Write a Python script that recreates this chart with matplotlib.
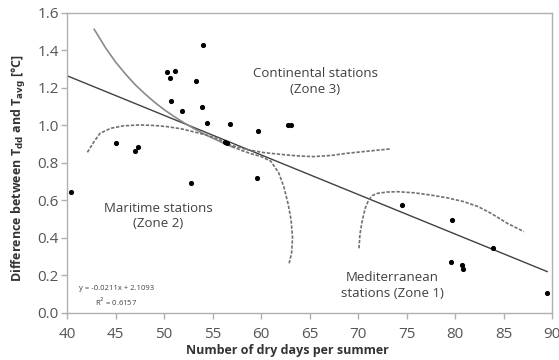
import numpy as np
import matplotlib.pyplot as plt

plt.rcParams['font.family'] = ['Open Sans', 'DejaVu Sans']

# station data: dry days per summer vs temperature difference
dry_days = [40.4, 45.1, 47.0, 47.3, 50.3, 50.6, 51.1, 50.7, 51.85, 53.3, 54.05,
            53.9, 54.4, 56.8, 56.3, 56.5, 59.66, 59.6, 52.8, 62.8, 63.1,
            74.5, 79.7, 83.9, 79.6, 80.7, 80.8, 89.45]
temp_diff = [0.647, 0.905, 0.864, 0.885, 1.285, 1.255, 1.289, 1.129, 1.076, 1.239, 1.431,
             1.100, 1.015, 1.008, 0.914, 0.905, 0.971, 0.718, 0.695, 1.000, 1.005,
             0.576, 0.496, 0.348, 0.270, 0.254, 0.233, 0.105]

# linear fit reported on the chart
slope = -0.0211
intercept = 2.1093
fit_x = [40, 89.5]

# hand drawn zone boundaries
zone3_x = [42.8, 44, 45, 46, 47, 48, 49, 50, 51, 52, 53, 54, 55, 56, 57, 58, 59,
           60, 61, 61.8, 62.35, 62.8, 63.1, 63.25, 63.15, 62.9]
zone3_y = [1.513, 1.412, 1.339, 1.276, 1.219, 1.170, 1.125, 1.085, 1.049, 1.016, 0.986,
           0.958, 0.933, 0.909, 0.887, 0.867, 0.849,
           0.835, 0.81, 0.75, 0.674, 0.58, 0.496, 0.40, 0.32, 0.265]
zone2_x = [42.1, 42.8, 43.4, 44.5, 45.8, 47.5, 49.0, 50.3, 51.8, 53.0, 54.3, 55.5, 56.8,
           58.5, 60.2, 62.0, 63.7, 65.4, 67.2, 68.9, 71.0, 73.3]
zone2_y = [0.857, 0.915, 0.958, 0.985, 0.998, 1.003, 1.0, 0.994, 0.982, 0.967, 0.95, 0.93,
           0.896, 0.872, 0.856, 0.846, 0.838, 0.834, 0.840, 0.852, 0.863, 0.875]
zone1_x = [70.1, 70.2, 70.45, 70.75, 71.1, 71.5, 72.0, 73.0, 74.05, 75.8, 77.5, 79.2,
           80.9, 82.4, 83.7, 85.4, 87.1]
zone1_y = [0.345, 0.42, 0.496, 0.56, 0.603, 0.627, 0.638, 0.645, 0.647, 0.641, 0.629,
           0.614, 0.594, 0.567, 0.532, 0.478, 0.434]

fig = plt.figure(figsize=(5.59, 3.6), dpi=100)
ax = fig.add_axes([0.1199, 0.1306, 0.8676, 0.8333])

lx = np.array(fit_x)
ax.plot(lx, slope * lx + intercept, color='#404040', lw=1.0, zorder=2)

dash = (0, (2, 1))
ax.plot(zone3_x[:15], zone3_y[:15], color='#8a8a8a', lw=1.2, zorder=2)
ax.plot(zone3_x[14:], zone3_y[14:], color='#707070', lw=1.2, ls=dash, zorder=2)
ax.plot(zone2_x, zone2_y, color='#707070', lw=1.2, ls=dash, zorder=2)
ax.plot(zone1_x, zone1_y, color='#707070', lw=1.2, ls=dash, zorder=2)

ax.plot(dry_days, temp_diff, 'o', color='black', ms=2.7, zorder=3)

txt = '#404040'
ax.text(65.6, 1.235, 'Continental stations\n(Zone 3)', ha='center', va='center',
        fontsize=9.5, color=txt, linespacing=1.25)
ax.text(49.4, 0.517, 'Maritime stations\n(Zone 2)', ha='center', va='center',
        fontsize=9.5, color=txt, linespacing=1.25)
ax.text(73.5, 0.147, 'Mediterranean\nstations (Zone 1)', ha='center', va='center',
        fontsize=9.5, color=txt, linespacing=1.25)
ax.text(45.1, 0.088, 'y = -0.0211x + 2.1093\nR$^2$ = 0.6157', ha='center', va='center',
        fontsize=5.5, color=txt, linespacing=1.4)

ax.set_xlim(40, 90)
ax.set_ylim(0, 1.6)
ax.set_xticks(np.arange(40, 91, 5))
ax.set_yticks(np.arange(0, 1.61, 0.2))
ax.yaxis.set_major_formatter(plt.FormatStrFormatter('%.1f'))

for s in ax.spines.values():
    s.set_color('#b0b0b0')
    s.set_linewidth(1.0)
ax.tick_params(direction='out', length=4, width=1, color='#b0b0b0',
               labelsize=11, labelcolor='#555555')
ax.tick_params(axis='x', pad=6)
ax.tick_params(axis='y', pad=2)

ax.set_xlabel('Number of dry days per summer', fontsize=9, fontweight='bold',
              color='#333333')
ax.set_ylabel('Difference between T$_{\\mathbf{dd}}$ and T$_{\\mathbf{avg}}$ [°C]',
              fontsize=9, fontweight='bold', color='#333333')
ax.xaxis.set_label_coords(0.455, -0.105)
ax.yaxis.set_label_coords(-0.08, 0.485)

fig.savefig('out.png', dpi=100)
